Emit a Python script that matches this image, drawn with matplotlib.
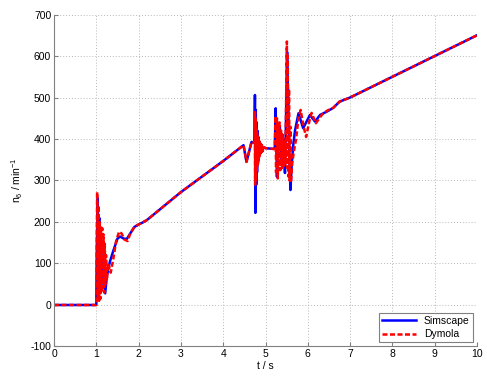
import matplotlib
matplotlib.use('Agg')
import matplotlib.pyplot as plt

plt.rcParams['font.family'] = ['Liberation Sans', 'DejaVu Sans']
plt.rcParams['mathtext.fontset'] = 'custom'
plt.rcParams['mathtext.rm'] = 'Liberation Sans'
plt.rcParams['mathtext.it'] = 'Liberation Sans'
plt.rcParams['axes.unicode_minus'] = False

# Simscape (blue) - time / s and speed / min^-1
t_sim = [0, 1.0, 1.01, 1.03, 1.05, 1.07, 1.09, 1.11, 1.13, 1.15, 1.17, 1.19, 1.21, 1.25,
         1.32, 1.4, 1.5, 1.56, 1.65, 1.72, 1.8, 1.9, 2.0, 2.1, 2.2, 3.0, 4.0, 4.48,
         4.55, 4.67, 4.74, 4.75, 4.76, 4.77, 4.78, 4.79, 4.80, 4.81, 4.82, 4.83, 4.84,
         4.85, 4.86, 4.87, 4.88, 4.90, 4.92, 4.95, 5.0, 5.2, 5.22, 5.24, 5.27, 5.30, 5.34,
         5.38, 5.42, 5.46, 5.49, 5.51, 5.53, 5.56, 5.59, 5.62, 5.66, 5.70, 5.78, 5.89,
         5.96, 6.05, 6.17, 6.29, 6.45, 6.6, 6.75, 7.0, 8.0, 9.0, 10.0]
n_sim = [0, 0, 120, 258, 180, 210, 120, 160, 80, 110, 50, 70, 28, 70,
         104, 130, 160, 165, 160, 159, 172, 188, 194, 199, 205, 272, 347, 385,
         345, 393, 390, 506, 222, 470, 290, 440, 320, 420, 340, 405, 350,
         395, 360, 390, 365, 385, 372, 380, 378, 376, 378, 474, 309, 380, 430,
         340, 400, 318, 480, 610, 520, 360, 277, 340, 390, 422, 462, 426,
         440, 458, 442, 458, 466, 475, 490, 500, 550, 600, 650]

# Dymola (red)
t_dym = [0, 1.0, 1.01, 1.02, 1.035, 1.05, 1.065, 1.08, 1.095, 1.11, 1.125, 1.14, 1.155,
         1.17, 1.185, 1.2, 1.215, 1.23, 1.25, 1.28, 1.34, 1.4, 1.47, 1.54, 1.6, 1.66,
         1.74, 1.8, 1.9, 2.0, 2.1, 2.2, 3.0, 4.0, 4.48, 4.55, 4.67, 4.745, 4.75,
         4.755, 4.76, 4.765, 4.77, 4.775, 4.78, 4.785, 4.79, 4.795, 4.80, 4.805, 4.81,
         4.815, 4.82, 4.825, 4.83, 4.835, 4.84, 4.845, 4.85, 4.855, 4.86, 4.865, 4.87,
         4.88, 4.89, 4.90, 4.91, 4.92, 4.93, 4.94, 4.96, 5.0, 5.2, 5.22, 5.235, 5.25,
         5.27, 5.29, 5.31, 5.33, 5.35, 5.37, 5.39, 5.41, 5.43, 5.45, 5.47, 5.49, 5.505,
         5.515, 5.525, 5.54, 5.555, 5.57, 5.585, 5.6, 5.63, 5.67, 5.72, 5.78, 5.83, 5.9,
         5.96, 6.03, 6.09, 6.19, 6.33, 6.45, 6.6, 6.75, 7.0, 8.0, 9.0, 10.0]
n_dym = [0, 0, 150, 272, 20, 240, 10, 200, 15, 190, 30, 185, 40,
         170, 30, 150, 50, 120, 60, 100, 78, 110, 155, 177, 172, 158,
         154, 172, 188, 194, 199, 205, 272, 347, 385, 345, 393, 390, 465,
         290, 450, 300, 440, 310, 430, 320, 420, 330, 415, 335, 410,
         340, 405, 345, 400, 350, 398, 355, 395, 360, 392, 362, 390,
         365, 388, 368, 386, 370, 384, 372, 380, 378, 376, 380, 455, 320,
         450, 305, 400, 440, 325, 420, 330, 410, 335, 400, 340, 520, 635,
         330, 600, 310, 520, 300, 430, 295, 340, 370, 398, 450, 470, 430,
         405, 440, 463, 438, 458, 468, 475, 490, 500, 550, 600, 650]

x_ticks = list(range(0, 11))
y_ticks = list(range(-100, 701, 100))

fig = plt.figure(figsize=(4.87, 3.76), dpi=100)
ax = fig.add_axes([0.1109, 0.0785, 0.8686, 0.8829])

ax.plot(t_sim, n_sim, color='#0000ff', lw=1.8, label='Simscape')
ax.plot(t_dym, n_dym, color='#ff0000', lw=1.8, dashes=(2, 1), label='Dymola')

ax.set_xlim(0, 10)
ax.set_ylim(-100, 700)
ax.set_xticks(x_ticks)
ax.set_yticks(y_ticks)
ax.grid(True, color='#b8b8b8', linestyle=(0, (1, 2)), linewidth=0.7)
ax.tick_params(direction='in', length=3, labelsize=7.5, color='#808080', pad=2)
for s in ['top', 'right']:
    ax.spines[s].set_visible(False)
for s in ['left', 'bottom']:
    ax.spines[s].set_color('#808080')
    ax.spines[s].set_linewidth(0.8)

ax.set_xlabel('t / s', fontsize=7.5, labelpad=1)
ax.set_ylabel('n$_6$ / min$^{-1}$', fontsize=7.5, labelpad=4)

leg = ax.legend(loc='lower right', fontsize=7.5, fancybox=False, framealpha=1,
                edgecolor='#808080', borderpad=0.3, handlelength=3.2,
                labelspacing=0.3, borderaxespad=0.4)
leg.get_frame().set_linewidth(0.8)

fig.savefig('out.png', dpi=100)
